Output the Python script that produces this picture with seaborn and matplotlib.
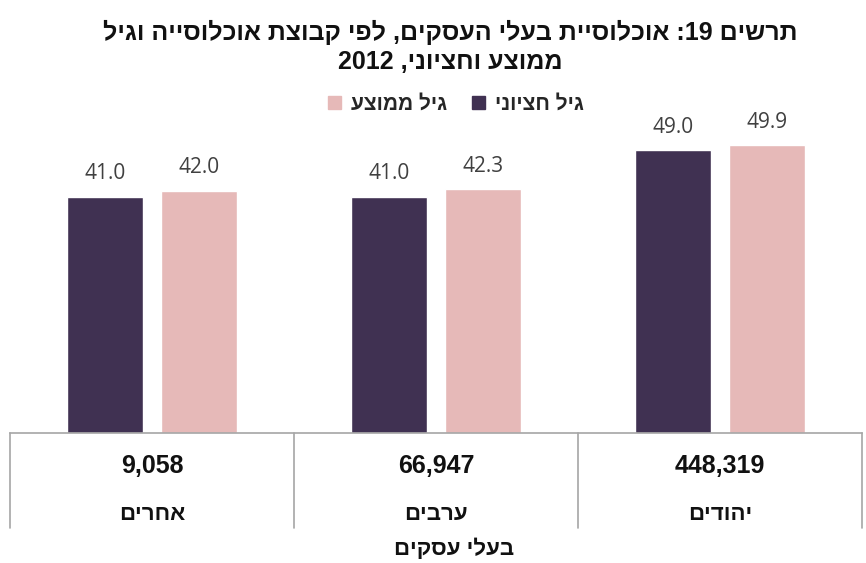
import re
import matplotlib
matplotlib.use("Agg")
import matplotlib.pyplot as plt
from matplotlib.patches import Patch
import seaborn as sns
import pandas as pd

# data (left to right as drawn)
categories = ['אחרים', 'ערבים', 'יהודים']
owners = [9058, 66947, 448319]
median_age = [41.0, 41.0, 49.0]
mean_age = [42.0, 42.3, 49.9]
series = ['גיל חציוני', 'גיל ממוצע']
colors = ['#403152', '#E6B9B8']

title = 'תרשים 19: אוכלוסיית בעלי העסקים, לפי קבוצת אוכלוסייה וגיל\nממוצע וחציוני, 2012'
xlabel = 'בעלי עסקים'


def rtl(s):
    """crude visual reordering for Hebrew (matplotlib has no bidi)"""
    lines = []
    for line in s.split('\n'):
        r = line[::-1]
        r = re.sub(r'\d[\d.,]*\d|\d', lambda m: m.group(0)[::-1], r)
        lines.append(r)
    return '\n'.join(lines)


df = pd.DataFrame({
    'group': categories * 2,
    'age': median_age + mean_age,
    'series': [series[0]] * 3 + [series[1]] * 3,
})

sns.set_style('white')
plt.rcParams['font.family'] = ['Liberation Sans', 'DejaVu Sans']

W, H = 866, 563
fig = plt.figure(figsize=(W / 100, H / 100), dpi=100)
y0, ytop = 433, 87
ax = fig.add_axes([10 / W, 1 - y0 / H, 852 / W, (y0 - ytop) / H])

sns.barplot(data=df, x='group', y='age', hue='series', order=categories,
            hue_order=series, palette=colors, width=0.666, gap=0.2,
            saturation=1, ax=ax, legend=False)

for cont in ax.containers:
    ax.bar_label(cont, fmt='%.1f', padding=9, fontsize=15, color='#404040',
                 family=['Open Sans', 'DejaVu Sans'])

ax.set_ylim(0, 60)
ax.set_xlim(-0.5, 2.5)
ax.set_xticks([])
ax.set_yticks([])
ax.set_xlabel('')
ax.set_ylabel('')
for sp in ['left', 'right', 'top']:
    ax.spines[sp].set_visible(False)
ax.spines['bottom'].set_color('#A6A6A6')
ax.spines['bottom'].set_linewidth(1.2)

# table under the axis
tr = ax.get_xaxis_transform()
bottom = -(528 - y0) / (y0 - ytop)
for xv in [-0.5, 0.5, 1.5, 2.5]:
    ax.plot([xv, xv], [0, bottom], transform=tr, color='#A6A6A6', lw=1.2,
            clip_on=False)
row1 = -(466 - y0) / (y0 - ytop)
row2 = -(514 - y0) / (y0 - ytop)
for i, (cat, n) in enumerate(zip(categories, owners)):
    ax.text(i, row1, f'{n:,}', transform=tr, ha='center', va='center',
            fontsize=18, fontweight='bold', color='#111111')
    ax.text(i, row2, rtl(cat), transform=tr, ha='center', va='center',
            fontsize=16, fontweight='bold', color='#111111')

fig.text(454 / W, 1 - 549 / H, rtl(xlabel), ha='center', va='center',
         fontsize=16, fontweight='bold', color='#111111')

fig.text(450 / W, 1 - 47 / H, rtl(title), ha='center', va='center',
         fontsize=18, fontweight='bold', color='#111111', linespacing=1.25)

handles = [Patch(color=colors[1]), Patch(color=colors[0])]
labels = [rtl(series[1]), rtl(series[0])]
fig.legend(handles, labels, loc='center', ncol=2, frameon=False,
           bbox_to_anchor=(456 / W, 1 - 104 / H), handlelength=0.6,
           handleheight=0.6, handletextpad=0.5, columnspacing=1.2,
           prop={'weight': 'bold', 'size': 15})

fig.savefig('out.png', dpi=100)
